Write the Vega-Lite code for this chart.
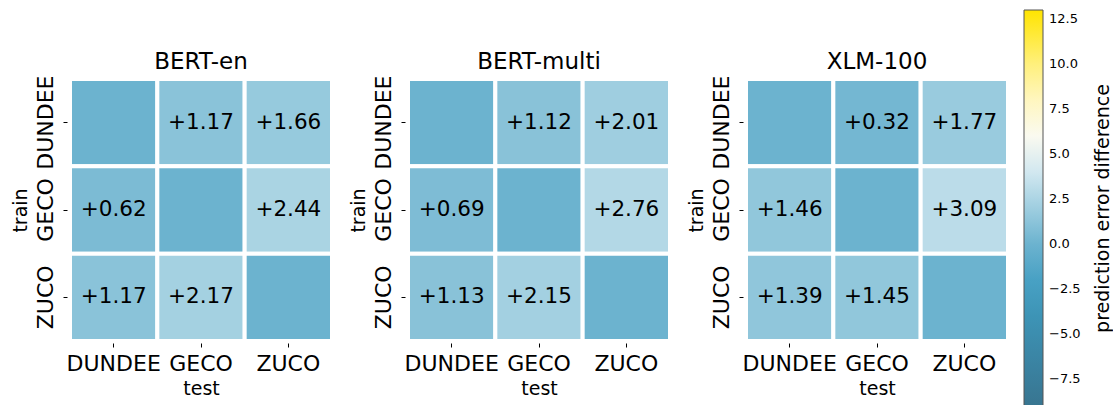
{
  "$schema": "https://vega.github.io/schema/vega-lite/v6.json",
  "padding": {"left": 10, "top": 10, "right": 0, "bottom": 0},
  "background": "white",
  "title": {"text": "prediction error difference", "orient": "right", "angle": -90, "anchor": "middle", "align": "center", "fontSize": 19, "fontWeight": "normal", "color": "black", "font": "DejaVu Sans", "offset": -6, "frame": "bounds"},
  "config": {
    "font": "DejaVu Sans",
    "view": {"stroke": null},
    "axis": {"domain": false, "tickColor": "black", "tickSize": 4, "labelColor": "black", "titleColor": "black", "labelFontSize": 22, "titleFontSize": 19, "titleFontWeight": "normal", "labelFont": "DejaVu Sans", "titleFont": "DejaVu Sans"}
  },
  "data": {
    "values": [
      {"model": "BERT-en", "train": "DUNDEE", "test": "DUNDEE", "value": 0, "label": ""},
      {"model": "BERT-en", "train": "DUNDEE", "test": "GECO", "value": 1.17, "label": "+1.17"},
      {"model": "BERT-en", "train": "DUNDEE", "test": "ZUCO", "value": 1.66, "label": "+1.66"},
      {"model": "BERT-en", "train": "GECO", "test": "DUNDEE", "value": 0.62, "label": "+0.62"},
      {"model": "BERT-en", "train": "GECO", "test": "GECO", "value": 0, "label": ""},
      {"model": "BERT-en", "train": "GECO", "test": "ZUCO", "value": 2.44, "label": "+2.44"},
      {"model": "BERT-en", "train": "ZUCO", "test": "DUNDEE", "value": 1.17, "label": "+1.17"},
      {"model": "BERT-en", "train": "ZUCO", "test": "GECO", "value": 2.17, "label": "+2.17"},
      {"model": "BERT-en", "train": "ZUCO", "test": "ZUCO", "value": 0, "label": ""},
      {"model": "BERT-multi", "train": "DUNDEE", "test": "DUNDEE", "value": 0, "label": ""},
      {"model": "BERT-multi", "train": "DUNDEE", "test": "GECO", "value": 1.12, "label": "+1.12"},
      {"model": "BERT-multi", "train": "DUNDEE", "test": "ZUCO", "value": 2.01, "label": "+2.01"},
      {"model": "BERT-multi", "train": "GECO", "test": "DUNDEE", "value": 0.69, "label": "+0.69"},
      {"model": "BERT-multi", "train": "GECO", "test": "GECO", "value": 0, "label": ""},
      {"model": "BERT-multi", "train": "GECO", "test": "ZUCO", "value": 2.76, "label": "+2.76"},
      {"model": "BERT-multi", "train": "ZUCO", "test": "DUNDEE", "value": 1.13, "label": "+1.13"},
      {"model": "BERT-multi", "train": "ZUCO", "test": "GECO", "value": 2.15, "label": "+2.15"},
      {"model": "BERT-multi", "train": "ZUCO", "test": "ZUCO", "value": 0, "label": ""},
      {"model": "XLM-100", "train": "DUNDEE", "test": "DUNDEE", "value": 0, "label": ""},
      {"model": "XLM-100", "train": "DUNDEE", "test": "GECO", "value": 0.32, "label": "+0.32"},
      {"model": "XLM-100", "train": "DUNDEE", "test": "ZUCO", "value": 1.77, "label": "+1.77"},
      {"model": "XLM-100", "train": "GECO", "test": "DUNDEE", "value": 1.46, "label": "+1.46"},
      {"model": "XLM-100", "train": "GECO", "test": "GECO", "value": 0, "label": ""},
      {"model": "XLM-100", "train": "GECO", "test": "ZUCO", "value": 3.09, "label": "+3.09"},
      {"model": "XLM-100", "train": "ZUCO", "test": "DUNDEE", "value": 1.39, "label": "+1.39"},
      {"model": "XLM-100", "train": "ZUCO", "test": "GECO", "value": 1.45, "label": "+1.45"},
      {"model": "XLM-100", "train": "ZUCO", "test": "ZUCO", "value": 0, "label": ""}
    ]
  },
  "facet": {
    "column": {
      "field": "model", "type": "nominal", "sort": ["BERT-en", "BERT-multi", "XLM-100"],
      "header": {"title": null, "labelFontSize": 23, "labelColor": "black", "labelFont": "DejaVu Sans", "labelPadding": 5}
    }
  },
  "spacing": 76,
  "bounds": "flush",
  "resolve": {"axis": {"y": "independent"}},
  "spec": {
    "width": 262,
    "height": 262,
    "encoding": {
      "x": {"field": "test", "type": "nominal", "sort": ["DUNDEE", "GECO", "ZUCO"], "scale": {"paddingInner": 0, "paddingOuter": 0}, "axis": {"title": "test", "labelAngle": 0, "labelPadding": 6, "titlePadding": 5, "offset": 2}},
      "y": {"field": "train", "type": "nominal", "sort": ["DUNDEE", "GECO", "ZUCO"], "scale": {"paddingInner": 0, "paddingOuter": 0}, "axis": {"title": "train", "labelAngle": -90, "labelPadding": 6, "titlePadding": 4, "offset": 3}}
    },
    "layer": [
      {
        "mark": {"type": "rect", "stroke": "white", "strokeWidth": 4},
        "encoding": {
          "color": {
            "field": "value", "type": "quantitative",
            "scale": {"domain": [-9, -2.5, 0, 2.5, 5.5, 7.5, 10, 13], "range": ["#387590", "#3f9dc1", "#6cb3cf", "#acd5e4", "#f8fafb", "#fff8d0", "#fff07c", "#ffe400"], "interpolate": "rgb"},
            "legend": {
              "title": null,
              "orient": "none", "legendX": 954, "legendY": -69,
              "direction": "vertical",
              "gradientLength": 396, "gradientThickness": 19,
              "gradientStrokeColor": "#555", "gradientStrokeWidth": 1,
              "values": [-7.5, -5, -2.5, 0, 2.5, 5, 7.5, 10, 12.5],
              "format": ".1f", "labelFontSize": 13, "labelColor": "black", "labelOverlap": false, "labelOffset": 6
            }
          }
        }
      },
      {
        "mark": {"type": "text", "fontSize": 21.5, "color": "black", "font": "DejaVu Sans"},
        "encoding": {"text": {"field": "label"}}
      }
    ]
  }
}
